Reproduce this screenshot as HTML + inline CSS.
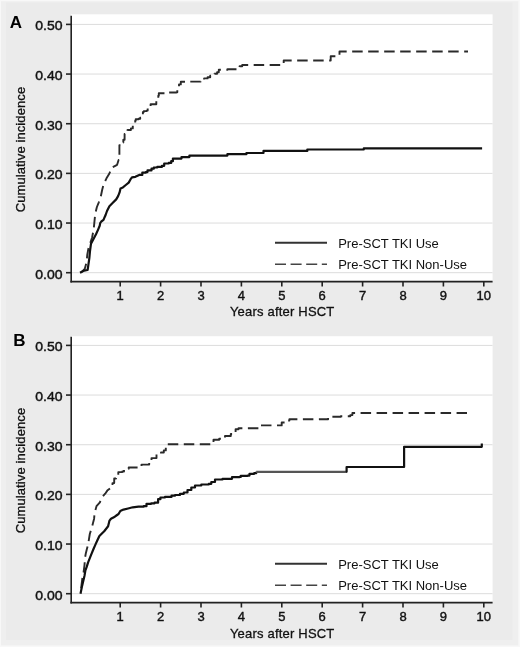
<!DOCTYPE html>
<html><head><meta charset="utf-8"><style>
html,body{margin:0;padding:0;background:#fff;width:520px;height:647px;overflow:hidden}
svg{display:block;will-change:transform}
</style></head><body>
<svg width="520" height="647" viewBox="0 0 520 647">
<rect x="0" y="0" width="520" height="647" fill="#f8f8f8"/>
<rect x="1" y="1.2" width="517.4" height="644.3" fill="#efefef"/>
<rect x="6" y="2.5" width="506.5" height="637.5" fill="#ebebeb"/>
<rect x="71" y="14.3" width="421.6" height="267.3" fill="#fff"/>
<line x1="72" x2="492.5" y1="272.70" y2="272.70" stroke="#dcdcdc" stroke-width="1"/>
<line x1="72" x2="492.5" y1="223.04" y2="223.04" stroke="#dcdcdc" stroke-width="1"/>
<line x1="72" x2="492.5" y1="173.38" y2="173.38" stroke="#dcdcdc" stroke-width="1"/>
<line x1="72" x2="492.5" y1="123.72" y2="123.72" stroke="#dcdcdc" stroke-width="1"/>
<line x1="72" x2="492.5" y1="74.06" y2="74.06" stroke="#dcdcdc" stroke-width="1"/>
<line x1="72" x2="492.5" y1="24.40" y2="24.40" stroke="#dcdcdc" stroke-width="1"/>
<path d="M81,272.6 L84.7,269 L85.7,265.4 L86.7,261.8 L87.2,255.2 L88.3,249.1 L89.3,246 L92.1,237.5 L93.7,229.1 L94.3,223.1 L95.1,215 L95.9,211 L96.9,207 L98.8,202.3 L100.8,196.5 L102.2,189.8 L103.7,184 L106.5,178.3 L109.4,173.5 L111.8,167.7 L117.1,164.8 L118.6,160 H119.2 V157.8 H119.4 V145.3 H120.6 V142.5 H123.3 V139.7 H124.6 V134 H127.5 V130 H130.9 V128.4 H132.8 V125.5 H135.2 V120.7 H135.7 V119.3 H138.6 V118.8 H140.2 V117.8 H142.9 V112 H143.8 V111.1 H146.7 V110.6 H147.7 V108.2 H150.6 V104.3 H155.9 V104.2 H156.3 V100.5 H158.3 V95.7 H158.8 V93.3 H165 V92.5 H176.4 V92.2 H177.3 V88.7 H179 V84.4 H180.8 V81.8 H185.1 V81.6 H200.7 V81.3 H204.1 V78.4 H207.6 V77.2 H210.2 V75.8 H214.5 V73.7 H217.1 V72.3 H218.8 V69.7 H227.5 V69.3 H238.8 V69.2 H239.6 V66.2 H242.2 V65 H280.9 V65 H283.7 V60.5 H330.2 V60.5 H330.7 V56.2 H339.3 V56.2 H339.5 V51.5 H468 V51.5" fill="none" stroke="#2a2a2a" stroke-width="1.9" stroke-dasharray="10.5 5.5" stroke-dashoffset="0" stroke-linejoin="round"/>
<path d="M80,272.7 L84.2,270.6 L87.6,270 L88.3,265.4 L89.3,258.3 L90,251 L91,243.7 L93.5,239 L96,234.3 L98.1,229.6 L99.7,225.8 L100.2,223.1 L101.3,221.5 L103.5,219.9 L104.6,217.2 L105.6,215 L107,211 L109.4,206.2 L112.8,202.8 L116.2,199.4 L118.1,196.1 L119.5,192.7 L120.5,188.4 L122.9,187.4 L125.8,185 L128.7,182.6 L130.6,179.2 L132,177.3 L135.4,176.8 L139.2,174.9 H142.3 V172.7 H145.8 V172.1 H147.5 V170.4 H151.5 V168.7 H153.8 V167.5 H157.3 V166.9 H161.9 V165.8 H164.2 V163.5 H168.8 V162.9 H171.2 V161.2 H172.9 V158.6 H179.2 V158.6 H181.5 V157.1 H187.3 V157.1 H189.4 V155.6 H226.5 V155.6 H227.4 V154.2 H245.5 V154.2 H246.4 V153 H262.5 V153 H263.5 V150.9 H306.8 V150.9 H307.3 V149.5 H363 V149.5 H363.8 V148.4 H482.1 V148.4" fill="none" stroke="#111" stroke-width="2.2" stroke-linejoin="round"/>
<line x1="275" x2="327" y1="242.8" y2="242.8" stroke="#333" stroke-width="2"/>
<line x1="275" x2="327" y1="264.2" y2="264.2" stroke="#444" stroke-width="1.6" stroke-dasharray="11 4.6"/>
<text x="338.2" y="248" font-size="13" font-family="'Liberation Sans', sans-serif" fill="#111">Pre-SCT TKI Use</text>
<text x="338.2" y="269" font-size="13" font-family="'Liberation Sans', sans-serif" fill="#111">Pre-SCT TKI Non-Use</text>
<line x1="71.2" x2="71.2" y1="15.8" y2="282.4" stroke="#222" stroke-width="1.6"/>
<line x1="70.4" x2="492.6" y1="281.6" y2="281.6" stroke="#222" stroke-width="1.6"/>
<line x1="66" x2="71" y1="272.70" y2="272.70" stroke="#222" stroke-width="1.6"/>
<text transform="translate(62.5,278.70) scale(1.08,1)" text-anchor="end" font-size="13" font-family="'Liberation Sans', sans-serif" fill="#111" stroke="#111" stroke-width="0.4">0.00</text>
<line x1="66" x2="71" y1="223.04" y2="223.04" stroke="#222" stroke-width="1.6"/>
<text transform="translate(62.5,229.04) scale(1.08,1)" text-anchor="end" font-size="13" font-family="'Liberation Sans', sans-serif" fill="#111" stroke="#111" stroke-width="0.4">0.10</text>
<line x1="66" x2="71" y1="173.38" y2="173.38" stroke="#222" stroke-width="1.6"/>
<text transform="translate(62.5,179.38) scale(1.08,1)" text-anchor="end" font-size="13" font-family="'Liberation Sans', sans-serif" fill="#111" stroke="#111" stroke-width="0.4">0.20</text>
<line x1="66" x2="71" y1="123.72" y2="123.72" stroke="#222" stroke-width="1.6"/>
<text transform="translate(62.5,129.72) scale(1.08,1)" text-anchor="end" font-size="13" font-family="'Liberation Sans', sans-serif" fill="#111" stroke="#111" stroke-width="0.4">0.30</text>
<line x1="66" x2="71" y1="74.06" y2="74.06" stroke="#222" stroke-width="1.6"/>
<text transform="translate(62.5,80.06) scale(1.08,1)" text-anchor="end" font-size="13" font-family="'Liberation Sans', sans-serif" fill="#111" stroke="#111" stroke-width="0.4">0.40</text>
<line x1="66" x2="71" y1="24.40" y2="24.40" stroke="#222" stroke-width="1.6"/>
<text transform="translate(62.5,30.40) scale(1.08,1)" text-anchor="end" font-size="13" font-family="'Liberation Sans', sans-serif" fill="#111" stroke="#111" stroke-width="0.4">0.50</text>
<line x1="120.20" x2="120.20" y1="281" y2="286.5" stroke="#222" stroke-width="1.6"/>
<text x="120.20" y="299.6" text-anchor="middle" font-size="13" font-family="'Liberation Sans', sans-serif" fill="#111" stroke="#111" stroke-width="0.4">1</text>
<line x1="160.60" x2="160.60" y1="281" y2="286.5" stroke="#222" stroke-width="1.6"/>
<text x="160.60" y="299.6" text-anchor="middle" font-size="13" font-family="'Liberation Sans', sans-serif" fill="#111" stroke="#111" stroke-width="0.4">2</text>
<line x1="201.00" x2="201.00" y1="281" y2="286.5" stroke="#222" stroke-width="1.6"/>
<text x="201.00" y="299.6" text-anchor="middle" font-size="13" font-family="'Liberation Sans', sans-serif" fill="#111" stroke="#111" stroke-width="0.4">3</text>
<line x1="241.40" x2="241.40" y1="281" y2="286.5" stroke="#222" stroke-width="1.6"/>
<text x="241.40" y="299.6" text-anchor="middle" font-size="13" font-family="'Liberation Sans', sans-serif" fill="#111" stroke="#111" stroke-width="0.4">4</text>
<line x1="281.80" x2="281.80" y1="281" y2="286.5" stroke="#222" stroke-width="1.6"/>
<text x="281.80" y="299.6" text-anchor="middle" font-size="13" font-family="'Liberation Sans', sans-serif" fill="#111" stroke="#111" stroke-width="0.4">5</text>
<line x1="322.20" x2="322.20" y1="281" y2="286.5" stroke="#222" stroke-width="1.6"/>
<text x="322.20" y="299.6" text-anchor="middle" font-size="13" font-family="'Liberation Sans', sans-serif" fill="#111" stroke="#111" stroke-width="0.4">6</text>
<line x1="362.60" x2="362.60" y1="281" y2="286.5" stroke="#222" stroke-width="1.6"/>
<text x="362.60" y="299.6" text-anchor="middle" font-size="13" font-family="'Liberation Sans', sans-serif" fill="#111" stroke="#111" stroke-width="0.4">7</text>
<line x1="403.00" x2="403.00" y1="281" y2="286.5" stroke="#222" stroke-width="1.6"/>
<text x="403.00" y="299.6" text-anchor="middle" font-size="13" font-family="'Liberation Sans', sans-serif" fill="#111" stroke="#111" stroke-width="0.4">8</text>
<line x1="443.40" x2="443.40" y1="281" y2="286.5" stroke="#222" stroke-width="1.6"/>
<text x="443.40" y="299.6" text-anchor="middle" font-size="13" font-family="'Liberation Sans', sans-serif" fill="#111" stroke="#111" stroke-width="0.4">9</text>
<line x1="483.80" x2="483.80" y1="281" y2="286.5" stroke="#222" stroke-width="1.6"/>
<text x="483.80" y="299.6" text-anchor="middle" font-size="13" font-family="'Liberation Sans', sans-serif" fill="#111" stroke="#111" stroke-width="0.4">10</text>
<text x="282.2" y="315.7" text-anchor="middle" font-size="13" letter-spacing="0.2" font-family="'Liberation Sans', sans-serif" fill="#111" stroke="#111" stroke-width="0.3">Years after HSCT</text>
<text transform="translate(25.1,149.5) rotate(-90)" text-anchor="middle" font-size="13" letter-spacing="0.1" font-family="'Liberation Sans', sans-serif" fill="#111" stroke="#111" stroke-width="0.3">Cumulative incidence</text>
<text x="9.8" y="27.6" font-size="17" font-weight="bold" font-family="'Liberation Sans', sans-serif" fill="#000">A</text>
<rect x="71" y="336.2" width="421.6" height="266.40000000000003" fill="#fff"/>
<line x1="72" x2="492.5" y1="593.70" y2="593.70" stroke="#dcdcdc" stroke-width="1"/>
<line x1="72" x2="492.5" y1="544.04" y2="544.04" stroke="#dcdcdc" stroke-width="1"/>
<line x1="72" x2="492.5" y1="494.38" y2="494.38" stroke="#dcdcdc" stroke-width="1"/>
<line x1="72" x2="492.5" y1="444.72" y2="444.72" stroke="#dcdcdc" stroke-width="1"/>
<line x1="72" x2="492.5" y1="395.06" y2="395.06" stroke="#dcdcdc" stroke-width="1"/>
<line x1="72" x2="492.5" y1="345.40" y2="345.40" stroke="#dcdcdc" stroke-width="1"/>
<path d="M80.5,593.7 L82.3,578.5 L83.6,572.2 L84.5,565.1 L85,557.9 L85.8,553.4 L86.7,549.8 L88.1,544.5 L89.8,534 L92.2,526.3 L94.1,518.7 L94.6,512.9 L96.5,506.2 L99.9,502.3 L101.8,497.5 L105.2,493.7 L107.3,490.6 L110.2,488.3 L110.8,487.1 H112.5 V483.1 H114.2 V478.5 H116 V477.3 H118.3 V472.1 H122.3 V471.5 H124 V468.7 H128.7 V467.5 H138.5 V467.5 H141.5 V464.6 H147.7 V464.6 H149.2 V461.9 H151.5 V458.1 H156.5 V454.2 H161 V452.5 H163.8 V450.4 H165.8 V446.9 H167.3 V444.2 H210.6 V444.2 H213.5 V439.8 H219.2 V438.8 H225 V436 H230.8 V434 H235.6 V429.2 H238.5 V428.3 H256.7 V428.3 H259.6 V425.4 H278.8 V425.4 H281.7 V422.5 H284.6 V420.6 H289.4 V419.3 H324.9 V419.3 H328.1 V416.8 H340.8 V416.2 H350.3 V415.1 H352.4 V413 H467 V413" fill="none" stroke="#2a2a2a" stroke-width="1.9" stroke-dasharray="10.5 5.5" stroke-dashoffset="-5.3" stroke-linejoin="round"/>
<path d="M80.5,593.7 L81.8,587.4 L83.2,581.2 L84.5,575.8 L85.4,570.4 L86.7,566.9 L88.1,562.4 L89.9,557.9 L91.7,553.4 L93.5,549 L95.4,544.6 L97.5,540 L99.4,536 L104.2,531.2 L108.1,526.3 L109.5,520.6 L111,518.7 L114.8,516.7 L117.1,515 L118.7,513.8 L120.3,511 L123.5,509.6 L128.1,508.5 L132.7,507.3 L138.5,506.7 H143.7 V506.2 H146.5 V503.8 H151.2 V503.3 H154.6 V502.7 H158.1 V499.2 H160.4 V497.5 H165 V496.9 H171.5 V495.7 H175 V495 H180 V493.8 H183.8 V492.5 H187.5 V490 H191.3 V487.5 H195 V485.5 H201.3 V484.5 H208.8 V483.8 H211.3 V482 H215 V479.5 H222.5 V478.8 H230 V478.8 H232 V477.2 H239.4 V476.9 H240.8 V475.9 H247.5 V475.6 H249.5 V473.8 H254.2 V473.2 H256.2 V471.8" fill="none" stroke="#111" stroke-width="2.2" stroke-linejoin="round"/>
<path d="M256.2,471.8 H346.1" fill="none" stroke="#555" stroke-width="2.2"/>
<path d="M346.1,471.8 H346.6 V467 H403.8 V467 H404.1 V446.8 H481.5 V446.8 H481.8 V443.5" fill="none" stroke="#111" stroke-width="2.2" stroke-linejoin="round"/>
<line x1="275" x2="327" y1="563.8" y2="563.8" stroke="#333" stroke-width="2"/>
<line x1="275" x2="327" y1="585.2" y2="585.2" stroke="#444" stroke-width="1.6" stroke-dasharray="11 4.6"/>
<text x="338.2" y="569" font-size="13" font-family="'Liberation Sans', sans-serif" fill="#111">Pre-SCT TKI Use</text>
<text x="338.2" y="590" font-size="13" font-family="'Liberation Sans', sans-serif" fill="#111">Pre-SCT TKI Non-Use</text>
<line x1="71.2" x2="71.2" y1="336.8" y2="603.4" stroke="#222" stroke-width="1.6"/>
<line x1="70.4" x2="492.6" y1="602.6" y2="602.6" stroke="#222" stroke-width="1.6"/>
<line x1="66" x2="71" y1="593.70" y2="593.70" stroke="#222" stroke-width="1.6"/>
<text transform="translate(62.5,599.70) scale(1.08,1)" text-anchor="end" font-size="13" font-family="'Liberation Sans', sans-serif" fill="#111" stroke="#111" stroke-width="0.4">0.00</text>
<line x1="66" x2="71" y1="544.04" y2="544.04" stroke="#222" stroke-width="1.6"/>
<text transform="translate(62.5,550.04) scale(1.08,1)" text-anchor="end" font-size="13" font-family="'Liberation Sans', sans-serif" fill="#111" stroke="#111" stroke-width="0.4">0.10</text>
<line x1="66" x2="71" y1="494.38" y2="494.38" stroke="#222" stroke-width="1.6"/>
<text transform="translate(62.5,500.38) scale(1.08,1)" text-anchor="end" font-size="13" font-family="'Liberation Sans', sans-serif" fill="#111" stroke="#111" stroke-width="0.4">0.20</text>
<line x1="66" x2="71" y1="444.72" y2="444.72" stroke="#222" stroke-width="1.6"/>
<text transform="translate(62.5,450.72) scale(1.08,1)" text-anchor="end" font-size="13" font-family="'Liberation Sans', sans-serif" fill="#111" stroke="#111" stroke-width="0.4">0.30</text>
<line x1="66" x2="71" y1="395.06" y2="395.06" stroke="#222" stroke-width="1.6"/>
<text transform="translate(62.5,401.06) scale(1.08,1)" text-anchor="end" font-size="13" font-family="'Liberation Sans', sans-serif" fill="#111" stroke="#111" stroke-width="0.4">0.40</text>
<line x1="66" x2="71" y1="345.40" y2="345.40" stroke="#222" stroke-width="1.6"/>
<text transform="translate(62.5,351.40) scale(1.08,1)" text-anchor="end" font-size="13" font-family="'Liberation Sans', sans-serif" fill="#111" stroke="#111" stroke-width="0.4">0.50</text>
<line x1="120.20" x2="120.20" y1="602" y2="607.5" stroke="#222" stroke-width="1.6"/>
<text x="120.20" y="620.6" text-anchor="middle" font-size="13" font-family="'Liberation Sans', sans-serif" fill="#111" stroke="#111" stroke-width="0.4">1</text>
<line x1="160.60" x2="160.60" y1="602" y2="607.5" stroke="#222" stroke-width="1.6"/>
<text x="160.60" y="620.6" text-anchor="middle" font-size="13" font-family="'Liberation Sans', sans-serif" fill="#111" stroke="#111" stroke-width="0.4">2</text>
<line x1="201.00" x2="201.00" y1="602" y2="607.5" stroke="#222" stroke-width="1.6"/>
<text x="201.00" y="620.6" text-anchor="middle" font-size="13" font-family="'Liberation Sans', sans-serif" fill="#111" stroke="#111" stroke-width="0.4">3</text>
<line x1="241.40" x2="241.40" y1="602" y2="607.5" stroke="#222" stroke-width="1.6"/>
<text x="241.40" y="620.6" text-anchor="middle" font-size="13" font-family="'Liberation Sans', sans-serif" fill="#111" stroke="#111" stroke-width="0.4">4</text>
<line x1="281.80" x2="281.80" y1="602" y2="607.5" stroke="#222" stroke-width="1.6"/>
<text x="281.80" y="620.6" text-anchor="middle" font-size="13" font-family="'Liberation Sans', sans-serif" fill="#111" stroke="#111" stroke-width="0.4">5</text>
<line x1="322.20" x2="322.20" y1="602" y2="607.5" stroke="#222" stroke-width="1.6"/>
<text x="322.20" y="620.6" text-anchor="middle" font-size="13" font-family="'Liberation Sans', sans-serif" fill="#111" stroke="#111" stroke-width="0.4">6</text>
<line x1="362.60" x2="362.60" y1="602" y2="607.5" stroke="#222" stroke-width="1.6"/>
<text x="362.60" y="620.6" text-anchor="middle" font-size="13" font-family="'Liberation Sans', sans-serif" fill="#111" stroke="#111" stroke-width="0.4">7</text>
<line x1="403.00" x2="403.00" y1="602" y2="607.5" stroke="#222" stroke-width="1.6"/>
<text x="403.00" y="620.6" text-anchor="middle" font-size="13" font-family="'Liberation Sans', sans-serif" fill="#111" stroke="#111" stroke-width="0.4">8</text>
<line x1="443.40" x2="443.40" y1="602" y2="607.5" stroke="#222" stroke-width="1.6"/>
<text x="443.40" y="620.6" text-anchor="middle" font-size="13" font-family="'Liberation Sans', sans-serif" fill="#111" stroke="#111" stroke-width="0.4">9</text>
<line x1="483.80" x2="483.80" y1="602" y2="607.5" stroke="#222" stroke-width="1.6"/>
<text x="483.80" y="620.6" text-anchor="middle" font-size="13" font-family="'Liberation Sans', sans-serif" fill="#111" stroke="#111" stroke-width="0.4">10</text>
<text x="282.2" y="637.5" text-anchor="middle" font-size="13" letter-spacing="0.2" font-family="'Liberation Sans', sans-serif" fill="#111" stroke="#111" stroke-width="0.3">Years after HSCT</text>
<text transform="translate(25.1,470.5) rotate(-90)" text-anchor="middle" font-size="13" letter-spacing="0.1" font-family="'Liberation Sans', sans-serif" fill="#111" stroke="#111" stroke-width="0.3">Cumulative incidence</text>
<text x="13.2" y="345.8" font-size="17" font-weight="bold" font-family="'Liberation Sans', sans-serif" fill="#000">B</text>
</svg>
</body></html>
